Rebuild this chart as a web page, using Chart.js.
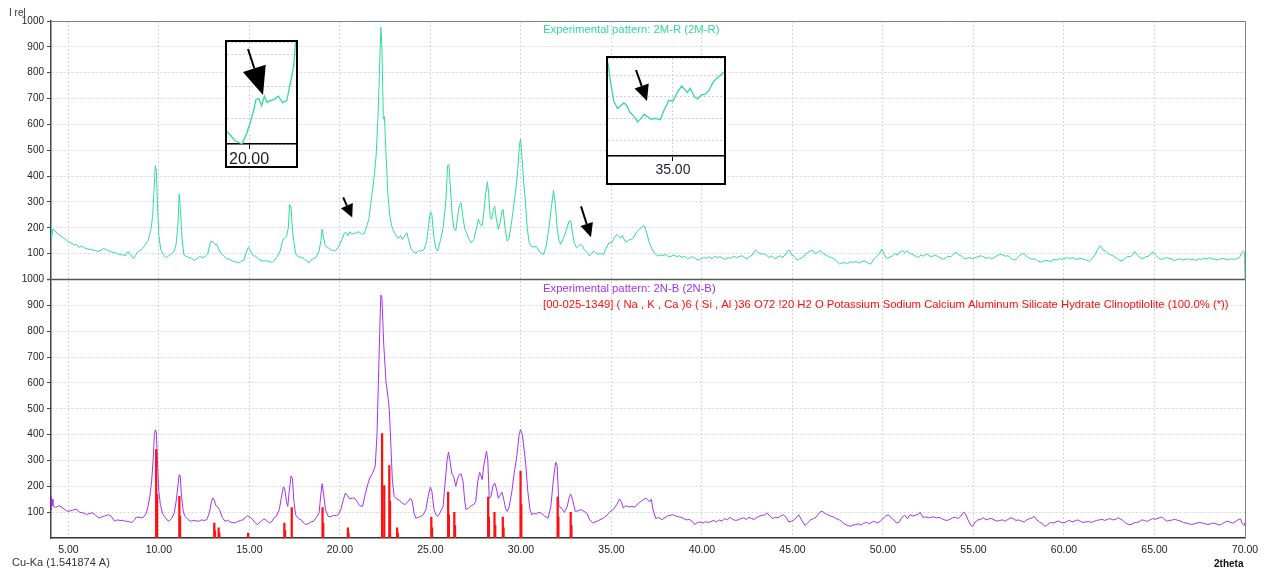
<!DOCTYPE html>
<html>
<head>
<meta charset="utf-8">
<script src="https://cdn.jsdelivr.net/npm/chart.js@4.4.1/dist/chart.umd.min.js"></script>
<style>
html, body { margin: 0; padding: 0; background: #fff; }
#wrap { position: relative; width: 1265px; height: 571px; }
#main { position: absolute; left: 0; top: 0; }
.inset { position: absolute; box-sizing: border-box; border: 2px solid #000; background: #fff; overflow: hidden; }
.inset canvas { display: block; }
</style>
</head>
<body>
<div id="wrap">
    <canvas id="main" width="1265" height="571"></canvas>
    <div class="inset" style="left:225px;top:40px;width:73px;height:128px"><canvas id="inset1" width="69" height="124"></canvas></div>
    <div class="inset" style="left:606px;top:56px;width:120px;height:129px"><canvas id="inset2" width="116" height="125"></canvas></div>
</div>
<script>
// 2theta / I rel pairs
const pattern2MR = [
    [4.04, 205], [4.06, 160], [4.15, 195], [4.25, 190], [4.4, 176], [4.55, 170], [4.7, 162], [4.85, 155],
    [5.0, 146], [5.15, 142], [5.3, 133], [5.45, 136], [5.6, 124], [5.75, 130], [5.9, 122], [6.05, 118],
    [6.2, 117], [6.35, 114], [6.5, 112], [6.65, 108], [6.8, 113], [6.95, 120], [7.1, 115], [7.25, 110],
    [7.4, 106], [7.55, 104], [7.7, 100], [7.85, 97], [8.0, 95], [8.15, 93], [8.3, 109], [8.4, 98],
    [8.5, 90], [8.6, 81], [8.7, 92], [8.8, 105], [8.95, 111], [9.1, 120], [9.25, 135], [9.4, 150],
    [9.55, 190], [9.65, 240], [9.72, 330], [9.8, 440], [9.86, 420], [9.92, 290], [10.0, 170], [10.1, 117],
    [10.25, 95], [10.4, 85], [10.55, 92], [10.7, 100], [10.85, 110], [10.95, 135], [11.05, 210], [11.12, 330],
    [11.2, 260], [11.28, 160], [11.38, 95], [11.5, 90], [11.65, 85], [11.8, 82], [11.95, 74], [12.1, 80],
    [12.25, 90], [12.4, 84], [12.55, 88], [12.7, 100], [12.85, 145], [12.95, 148], [13.1, 135], [13.2, 136],
    [13.3, 118], [13.45, 100], [13.6, 90], [13.75, 80], [13.9, 78], [14.1, 70], [14.25, 68], [14.4, 65],
    [14.55, 70], [14.7, 75], [14.85, 110], [14.95, 125], [15.05, 112], [15.2, 92], [15.35, 90], [15.5, 80],
    [15.7, 72], [15.9, 72], [16.1, 70], [16.25, 66], [16.4, 75], [16.55, 90], [16.7, 110], [16.85, 155],
    [16.95, 160], [17.05, 165], [17.15, 200], [17.22, 290], [17.3, 280], [17.38, 190], [17.45, 150], [17.55, 100],
    [17.7, 88], [17.9, 85], [18.05, 78], [18.2, 70], [18.3, 65], [18.4, 75], [18.55, 80], [18.7, 88],
    [18.85, 110], [18.95, 150], [19.02, 195], [19.1, 160], [19.2, 130], [19.35, 123], [19.5, 115], [19.65, 112],
    [19.75, 110], [19.9, 125], [20.05, 145], [20.15, 160], [20.25, 180], [20.35, 181], [20.45, 170], [20.55, 185],
    [20.65, 175], [20.75, 178], [20.9, 180], [21.05, 185], [21.2, 175], [21.35, 178], [21.5, 210], [21.6, 233],
    [21.7, 290], [21.8, 345], [21.9, 400], [22.0, 480], [22.1, 620], [22.18, 790], [22.26, 975], [22.32, 900],
    [22.4, 620], [22.46, 630], [22.55, 480], [22.65, 330], [22.75, 250], [22.85, 210], [22.95, 190], [23.05, 175],
    [23.15, 165], [23.25, 160], [23.35, 170], [23.45, 155], [23.6, 170], [23.7, 181], [23.8, 150], [23.95, 115],
    [24.1, 105], [24.2, 103], [24.35, 112], [24.5, 110], [24.65, 116], [24.8, 150], [24.9, 210], [25.0, 262],
    [25.08, 250], [25.2, 160], [25.3, 120], [25.4, 110], [25.55, 150], [25.7, 200], [25.85, 300], [25.95, 440],
    [26.02, 445], [26.1, 360], [26.2, 250], [26.3, 200], [26.4, 188], [26.5, 240], [26.6, 290], [26.7, 297],
    [26.8, 240], [26.9, 195], [27.0, 181], [27.1, 160], [27.25, 142], [27.4, 155], [27.55, 200], [27.65, 233],
    [27.75, 215], [27.85, 207], [27.95, 260], [28.05, 330], [28.15, 378], [28.22, 330], [28.3, 240], [28.38, 233],
    [28.48, 270], [28.55, 284], [28.65, 230], [28.75, 194], [28.85, 220], [28.95, 265], [29.02, 271], [29.12, 200],
    [29.24, 149], [29.35, 160], [29.5, 230], [29.65, 310], [29.8, 400], [29.92, 520], [29.98, 543], [30.05, 480],
    [30.15, 380], [30.25, 300], [30.35, 200], [30.45, 145], [30.55, 130], [30.7, 125], [30.85, 128], [31.0, 110],
    [31.15, 100], [31.25, 97], [31.4, 130], [31.55, 200], [31.7, 290], [31.8, 345], [31.9, 290], [32.0, 200],
    [32.1, 150], [32.2, 136], [32.35, 160], [32.5, 190], [32.65, 225], [32.75, 228], [32.85, 180], [32.95, 140],
    [33.08, 123], [33.2, 130], [33.3, 136], [33.4, 130], [33.5, 115], [33.65, 105], [33.77, 92], [33.9, 100],
    [34.0, 110], [34.1, 105], [34.25, 98], [34.4, 100], [34.56, 97], [34.7, 120], [34.86, 142], [35.0, 140],
    [35.15, 160], [35.3, 175], [35.4, 168], [35.5, 160], [35.6, 170], [35.74, 150], [35.85, 145], [36.0, 155],
    [36.1, 155], [36.25, 165], [36.4, 185], [36.55, 195], [36.65, 200], [36.75, 207], [36.85, 205], [36.95, 180],
    [37.1, 140], [37.25, 116], [37.4, 100], [37.55, 91], [37.7, 95], [37.85, 93], [38.0, 97], [38.15, 88],
    [38.3, 90], [38.45, 95], [38.6, 88], [38.75, 92], [38.9, 85], [39.05, 90], [39.2, 80], [39.35, 85],
    [39.5, 88], [39.65, 80], [39.8, 75], [39.95, 80], [40.1, 85], [40.25, 82], [40.4, 88], [40.55, 80],
    [40.7, 90], [40.85, 85], [41.0, 88], [41.15, 82], [41.3, 78], [41.45, 85], [41.6, 82], [41.75, 90],
    [41.9, 85], [42.05, 88], [42.2, 92], [42.35, 85], [42.5, 80], [42.65, 90], [42.8, 95], [42.95, 115],
    [43.1, 105], [43.25, 98], [43.4, 100], [43.55, 95], [43.7, 85], [43.85, 92], [44.0, 80], [44.15, 85],
    [44.3, 92], [44.45, 85], [44.6, 95], [44.75, 110], [44.85, 114], [44.95, 95], [45.1, 90], [45.25, 75],
    [45.4, 80], [45.55, 85], [45.7, 95], [45.85, 105], [46.0, 110], [46.1, 114], [46.25, 100], [46.4, 105],
    [46.55, 112], [46.7, 100], [46.85, 95], [47.0, 88], [47.15, 85], [47.3, 80], [47.45, 70], [47.6, 60],
    [47.75, 64], [47.9, 65], [48.05, 62], [48.2, 68], [48.35, 66], [48.5, 70], [48.65, 64], [48.8, 68],
    [48.95, 72], [49.1, 68], [49.25, 60], [49.35, 62], [49.5, 80], [49.65, 88], [49.8, 100], [49.95, 118],
    [50.05, 100], [50.2, 82], [50.35, 85], [50.5, 90], [50.65, 100], [50.8, 95], [50.95, 108], [51.05, 112],
    [51.2, 104], [51.35, 110], [51.5, 100], [51.65, 98], [51.8, 90], [51.95, 85], [52.1, 95], [52.25, 90],
    [52.4, 100], [52.55, 92], [52.7, 88], [52.85, 95], [53.0, 90], [53.15, 85], [53.3, 78], [53.45, 82],
    [53.6, 90], [53.75, 88], [53.9, 98], [54.05, 106], [54.2, 95], [54.35, 90], [54.5, 80], [54.65, 82],
    [54.8, 85], [54.95, 80], [55.1, 85], [55.25, 88], [55.4, 92], [55.55, 88], [55.7, 82], [55.85, 85],
    [56.0, 80], [56.15, 85], [56.3, 92], [56.45, 98], [56.6, 95], [56.75, 90], [56.9, 92], [57.05, 85],
    [57.2, 75], [57.35, 78], [57.5, 90], [57.65, 98], [57.8, 100], [57.95, 88], [58.1, 82], [58.25, 78],
    [58.4, 80], [58.55, 72], [58.7, 67], [58.85, 70], [59.0, 75], [59.15, 72], [59.3, 70], [59.45, 78],
    [59.6, 75], [59.75, 80], [59.9, 78], [60.05, 82], [60.2, 85], [60.35, 80], [60.5, 85], [60.65, 78],
    [60.8, 80], [60.95, 82], [61.1, 78], [61.25, 75], [61.4, 70], [61.55, 80], [61.7, 95], [61.85, 115],
    [62.0, 130], [62.15, 115], [62.3, 110], [62.45, 100], [62.6, 95], [62.75, 90], [62.9, 82], [63.05, 75],
    [63.2, 72], [63.35, 80], [63.5, 90], [63.65, 88], [63.8, 95], [63.9, 108], [64.05, 95], [64.2, 85],
    [64.35, 80], [64.5, 88], [64.65, 90], [64.8, 98], [64.9, 108], [65.05, 95], [65.2, 85], [65.35, 78],
    [65.5, 80], [65.65, 85], [65.8, 82], [65.95, 80], [66.1, 72], [66.25, 78], [66.4, 80], [66.55, 75],
    [66.7, 78], [66.85, 80], [67.0, 76], [67.15, 78], [67.3, 74], [67.45, 80], [67.6, 78], [67.75, 82],
    [67.9, 80], [68.05, 85], [68.2, 80], [68.35, 78], [68.5, 75], [68.65, 80], [68.8, 82], [68.95, 78],
    [69.1, 75], [69.25, 80], [69.4, 78], [69.55, 80], [69.7, 85], [69.8, 100], [69.9, 110], [69.98, 105],
    [70.0, 0]
];

const pattern2NB = [
    [4.04, 160], [4.06, 110], [4.1, 150], [4.15, 125], [4.3, 118], [4.5, 125], [4.65, 118], [4.8, 110],
    [4.95, 103], [5.1, 105], [5.25, 108], [5.45, 112], [5.6, 100], [5.75, 98], [5.9, 95], [6.0, 90],
    [6.15, 95], [6.35, 97], [6.5, 88], [6.7, 77], [6.85, 82], [7.0, 85], [7.2, 90], [7.35, 85],
    [7.55, 65], [7.7, 70], [7.85, 68], [8.0, 68], [8.15, 65], [8.3, 64], [8.5, 60], [8.65, 70],
    [8.75, 81], [8.9, 80], [9.05, 78], [9.15, 81], [9.3, 95], [9.4, 122], [9.5, 160], [9.6, 220],
    [9.68, 300], [9.75, 400], [9.8, 418], [9.86, 410], [9.92, 300], [10.0, 180], [10.08, 130], [10.2, 95],
    [10.3, 84], [10.45, 70], [10.55, 65], [10.7, 75], [10.85, 97], [10.95, 140], [11.05, 200], [11.12, 245],
    [11.18, 240], [11.25, 160], [11.35, 100], [11.45, 84], [11.6, 72], [11.75, 65], [11.9, 68], [12.05, 66],
    [12.2, 65], [12.35, 70], [12.5, 68], [12.65, 71], [12.8, 100], [12.9, 140], [12.98, 155], [13.05, 148],
    [13.15, 125], [13.25, 120], [13.35, 110], [13.5, 80], [13.65, 65], [13.8, 68], [13.95, 62], [14.15, 58],
    [14.3, 62], [14.5, 68], [14.65, 70], [14.8, 82], [14.9, 86], [15.05, 80], [15.2, 70], [15.3, 60],
    [15.45, 52], [15.6, 62], [15.8, 74], [15.95, 68], [16.1, 58], [16.25, 65], [16.35, 77], [16.5, 85],
    [16.65, 110], [16.8, 170], [16.88, 198], [16.95, 190], [17.05, 140], [17.12, 122], [17.2, 180], [17.3, 240],
    [17.38, 230], [17.45, 150], [17.55, 90], [17.7, 75], [17.85, 71], [18.0, 58], [18.1, 52], [18.25, 55],
    [18.4, 62], [18.55, 65], [18.7, 80], [18.85, 97], [18.95, 170], [19.02, 210], [19.1, 170], [19.2, 110],
    [19.35, 84], [19.5, 82], [19.65, 88], [19.8, 86], [19.9, 90], [20.05, 110], [20.2, 150], [20.3, 174],
    [20.4, 165], [20.55, 151], [20.7, 155], [20.85, 151], [21.0, 135], [21.1, 125], [21.25, 122], [21.4, 170],
    [21.55, 210], [21.65, 232], [21.8, 250], [21.95, 277], [22.05, 400], [22.13, 613], [22.2, 800], [22.26, 940],
    [22.32, 930], [22.42, 750], [22.55, 600], [22.65, 550], [22.73, 497], [22.82, 350], [22.9, 220], [23.0, 161],
    [23.15, 150], [23.3, 145], [23.45, 135], [23.6, 129], [23.75, 140], [23.9, 154], [24.0, 140], [24.1, 95],
    [24.2, 77], [24.35, 80], [24.5, 85], [24.6, 90], [24.75, 110], [24.9, 170], [25.0, 197], [25.08, 180],
    [25.2, 110], [25.3, 90], [25.4, 84], [25.55, 100], [25.7, 122], [25.82, 220], [25.92, 300], [26.0, 332],
    [26.08, 300], [26.18, 250], [26.28, 239], [26.4, 200], [26.5, 230], [26.6, 245], [26.7, 248], [26.8, 220],
    [26.9, 140], [26.97, 110], [27.1, 115], [27.25, 125], [27.4, 130], [27.5, 140], [27.62, 220], [27.72, 254],
    [27.8, 240], [27.86, 226], [27.95, 280], [28.05, 320], [28.1, 336], [28.17, 300], [28.25, 154], [28.35, 160],
    [28.45, 200], [28.55, 213], [28.65, 190], [28.75, 154], [28.85, 165], [28.95, 177], [29.05, 150], [29.15, 115],
    [29.24, 103], [29.35, 120], [29.5, 180], [29.63, 252], [29.78, 320], [29.9, 400], [29.98, 419], [30.08, 400],
    [30.18, 340], [30.26, 290], [30.38, 180], [30.5, 110], [30.6, 90], [30.7, 95], [30.85, 93], [31.0, 100],
    [31.15, 95], [31.3, 85], [31.5, 77], [31.65, 120], [31.8, 230], [31.92, 293], [32.0, 280], [32.1, 122],
    [32.25, 115], [32.4, 99], [32.55, 120], [32.68, 160], [32.75, 170], [32.85, 150], [33.0, 103], [33.15, 105],
    [33.3, 110], [33.5, 103], [33.65, 95], [33.8, 70], [33.97, 58], [34.1, 62], [34.3, 68], [34.56, 77],
    [34.7, 85], [34.9, 100], [35.1, 110], [35.3, 130], [35.45, 151], [35.55, 140], [35.65, 116], [35.8, 125],
    [35.95, 120], [36.1, 122], [36.3, 120], [36.5, 135], [36.7, 145], [36.8, 150], [36.9, 154], [37.0, 148],
    [37.1, 140], [37.2, 150], [37.3, 110], [37.45, 75], [37.6, 80], [37.8, 71], [37.95, 78], [38.1, 85],
    [38.25, 88], [38.4, 90], [38.55, 85], [38.7, 82], [38.85, 80], [39.0, 75], [39.15, 70], [39.3, 72],
    [39.45, 65], [39.6, 52], [39.75, 60], [39.9, 62], [40.05, 58], [40.2, 63], [40.35, 60], [40.5, 64],
    [40.65, 68], [40.8, 62], [40.95, 70], [41.1, 65], [41.25, 75], [41.4, 70], [41.55, 80], [41.7, 72],
    [41.85, 68], [42.0, 70], [42.15, 75], [42.3, 78], [42.45, 72], [42.6, 80], [42.75, 75], [42.9, 72],
    [43.05, 80], [43.2, 85], [43.35, 88], [43.5, 90], [43.6, 97], [43.75, 85], [43.9, 75], [44.05, 80],
    [44.2, 78], [44.35, 85], [44.5, 90], [44.65, 80], [44.8, 62], [44.95, 65], [45.1, 70], [45.25, 82],
    [45.35, 90], [45.5, 70], [45.7, 48], [45.85, 60], [46.0, 70], [46.15, 75], [46.3, 80], [46.5, 100],
    [46.65, 103], [46.8, 95], [46.95, 90], [47.1, 85], [47.25, 82], [47.4, 75], [47.55, 72], [47.7, 65],
    [47.85, 55], [48.0, 50], [48.2, 45], [48.35, 50], [48.5, 52], [48.65, 55], [48.8, 50], [48.95, 58],
    [49.1, 60], [49.25, 55], [49.4, 62], [49.55, 64], [49.7, 58], [49.85, 65], [50.0, 75], [50.15, 85],
    [50.3, 90], [50.45, 78], [50.6, 70], [50.75, 58], [50.9, 62], [51.05, 80], [51.2, 88], [51.35, 75],
    [51.5, 90], [51.65, 85], [51.8, 88], [51.95, 92], [52.05, 100], [52.2, 80], [52.35, 82], [52.5, 78],
    [52.65, 80], [52.8, 82], [52.95, 78], [53.1, 80], [53.25, 75], [53.4, 70], [53.55, 68], [53.7, 72],
    [53.85, 78], [54.0, 80], [54.15, 75], [54.3, 85], [54.45, 100], [54.55, 95], [54.7, 70], [54.85, 50],
    [54.95, 45], [55.1, 62], [55.25, 70], [55.4, 72], [55.55, 78], [55.7, 70], [55.85, 74], [56.0, 75],
    [56.15, 70], [56.3, 65], [56.45, 68], [56.6, 70], [56.75, 65], [56.9, 72], [57.05, 78], [57.2, 75],
    [57.35, 68], [57.5, 70], [57.65, 65], [57.8, 62], [57.95, 70], [58.1, 75], [58.25, 78], [58.35, 84],
    [58.5, 70], [58.65, 62], [58.8, 55], [58.95, 45], [59.1, 52], [59.25, 60], [59.4, 58], [59.55, 62],
    [59.7, 66], [59.85, 60], [60.0, 58], [60.15, 64], [60.3, 68], [60.45, 62], [60.6, 66], [60.75, 70],
    [60.9, 65], [61.05, 60], [61.2, 62], [61.35, 64], [61.5, 60], [61.65, 64], [61.8, 68], [61.95, 70],
    [62.1, 72], [62.25, 68], [62.4, 72], [62.55, 75], [62.7, 70], [62.85, 72], [63.0, 78], [63.1, 74],
    [63.25, 68], [63.4, 58], [63.55, 52], [63.7, 52], [63.85, 58], [64.0, 60], [64.15, 62], [64.3, 70],
    [64.45, 68], [64.6, 64], [64.75, 70], [64.9, 75], [65.05, 72], [65.25, 78], [65.4, 81], [65.55, 72],
    [65.7, 65], [65.85, 68], [66.0, 70], [66.15, 72], [66.3, 68], [66.45, 65], [66.6, 60], [66.75, 58],
    [66.9, 55], [67.05, 52], [67.2, 55], [67.35, 58], [67.5, 60], [67.65, 58], [67.8, 55], [67.95, 52],
    [68.1, 55], [68.25, 58], [68.4, 55], [68.6, 50], [68.75, 55], [68.9, 62], [69.05, 65], [69.2, 60],
    [69.35, 58], [69.5, 65], [69.65, 72], [69.75, 74], [69.85, 55], [69.95, 48], [70.0, 60]
];

// [00-025-1349] clinoptilolite reference sticks
const clinoSticks = [
    [9.85, 342], [9.90, 168], [11.13, 161], [11.17, 84], [13.06, 58], [13.10, 28], [13.30, 39], [13.34, 19],
    [14.93, 19], [16.93, 58], [16.97, 30], [17.34, 118], [19.04, 118], [19.08, 58], [20.44, 39], [20.48, 19],
    [22.33, 404], [22.45, 203], [22.73, 280], [22.77, 142], [23.16, 39], [23.20, 19], [25.05, 81], [25.09, 39],
    [25.98, 178], [26.02, 90], [26.32, 99], [26.36, 48], [28.19, 158], [28.23, 81], [28.54, 99], [28.58, 49],
    [29.00, 81], [29.04, 39], [29.98, 258], [30.02, 129], [32.03, 158], [32.07, 81], [32.75, 99], [32.79, 48]
];

const xTickValues = [5, 10, 15, 20, 25, 30, 35, 40, 45, 50, 55, 60, 65, 70];
const yTickValues = [100, 200, 300, 400, 500, 600, 700, 800, 900, 1000];

const GREEN = '#2fdc9c';
const PURPLE = '#a632f5';
const RED = '#ff1010';
const FONT = "'Liberation Sans', Arial, sans-serif";

const toPoints = pairs => pairs.map(p => ({ x: p[0], y: p[1] }));

function drawArrow(ctx, x1, y1, x2, y2, headLen, headW) {
    const ang = Math.atan2(y2 - y1, x2 - x1);
    const bx = x2 - headLen * Math.cos(ang);
    const by = y2 - headLen * Math.sin(ang);
    ctx.save();
    ctx.strokeStyle = '#000';
    ctx.fillStyle = '#000';
    ctx.lineWidth = 2;
    ctx.beginPath();
    ctx.moveTo(x1, y1);
    ctx.lineTo(bx, by);
    ctx.stroke();
    ctx.beginPath();
    ctx.moveTo(x2, y2);
    ctx.lineTo(bx + headW / 2 * Math.sin(ang), by - headW / 2 * Math.cos(ang));
    ctx.lineTo(bx - headW / 2 * Math.sin(ang), by + headW / 2 * Math.cos(ang));
    ctx.closePath();
    ctx.fill();
    ctx.restore();
}

function yAxis() {
    return {
        type: 'linear',
        position: 'left',
        stack: 'xrd',
        stackWeight: 1,
        min: 0,
        max: 1000,
        afterBuildTicks: s => { s.ticks = yTickValues.map(v => ({ value: v })); },
        afterFit: s => { s.width = 51; },
        ticks: { callback: v => String(v), font: { family: FONT, size: 10 }, color: '#222', padding: 3 },
        grid: { color: '#d6d6d6', tickColor: '#444', tickLength: 4 },
        border: { color: '#444', width: 1.5, dash: [2, 2] }
    };
}

// frame lines, panel captions and arrows on the main chart
const mainDecor = {
    id: 'mainDecor',
    afterDraw(chart) {
        const { ctx, chartArea: a, scales } = chart;
        const sep = scales.yBot.getPixelForValue(1000);
        ctx.save();
        ctx.strokeStyle = '#808080';
        ctx.lineWidth = 1;
        ctx.beginPath();
        ctx.moveTo(a.left, a.top + 0.5);
        ctx.lineTo(a.right + 0.5, a.top + 0.5);
        ctx.lineTo(a.right + 0.5, a.bottom);
        ctx.stroke();
        ctx.strokeStyle = '#555';
        ctx.lineWidth = 1.5;
        ctx.beginPath();
        ctx.moveTo(a.left - 4, sep);
        ctx.lineTo(a.right, sep);
        ctx.stroke();

        ctx.textBaseline = 'middle';
        ctx.font = '10px ' + FONT;
        ctx.fillStyle = '#333';
        ctx.textAlign = 'left';
        ctx.fillText('I rel', 9, 13);
        ctx.font = '11px ' + FONT;
        ctx.fillText('Cu-Ka (1.541874 A)', 12, 563);
        ctx.font = 'bold 10px ' + FONT;
        ctx.fillStyle = '#111';
        ctx.fillText('2theta', 1214, 564);

        ctx.font = '11.3px ' + FONT;
        ctx.fillStyle = GREEN;
        ctx.fillText(chart.data.datasets[0].label, 543, 30);
        ctx.fillStyle = PURPLE;
        ctx.fillText(chart.data.datasets[1].label, 543, 289);
        ctx.fillStyle = RED;
        ctx.fillText(chart.data.datasets[2].label, 543, 305);
        ctx.restore();

        const x = scales.x, y = scales.yTop;
        drawArrow(ctx, x.getPixelForValue(20.18), y.getPixelForValue(318), x.getPixelForValue(20.68), y.getPixelForValue(240), 13, 13);
        drawArrow(ctx, x.getPixelForValue(33.32), y.getPixelForValue(283), x.getPixelForValue(33.87), y.getPixelForValue(163), 14, 13);
    }
};

new Chart(document.getElementById('main'), {
    type: 'line',
    data: {
        datasets: [
            {
                label: 'Experimental pattern: 2M-R (2M-R)',
                data: toPoints(pattern2MR),
                yAxisID: 'yTop',
                borderColor: GREEN,
                borderWidth: 1,
                pointRadius: 0,
                order: 2
            },
            {
                label: 'Experimental pattern: 2N-B (2N-B)',
                data: toPoints(pattern2NB),
                yAxisID: 'yBot',
                borderColor: PURPLE,
                borderWidth: 1,
                pointRadius: 0,
                order: 2
            },
            {
                type: 'bar',
                label: '[00-025-1349] ( Na , K , Ca )6 ( Si , Al )36 O72 !20 H2 O Potassium Sodium Calcium Aluminum Silicate Hydrate Clinoptilolite (100.0% (*))',
                data: toPoints(clinoSticks),
                yAxisID: 'yBot',
                backgroundColor: RED,
                barThickness: 1.6,
                grouped: false,
                order: 0
            }
        ]
    },
    options: {
        responsive: false,
        animation: false,
        events: [],
        layout: { padding: { top: 21, right: 20, left: 0, bottom: 0 } },
        plugins: {
            legend: { display: false },
            tooltip: { enabled: false }
        },
        scales: {
            x: {
                type: 'linear',
                min: 4.04,
                max: 70,
                offset: false,
                afterBuildTicks: s => { s.ticks = xTickValues.map(v => ({ value: v })); },
                afterFit: s => { s.height = 33; },
                ticks: {
                    callback: v => Number(v).toFixed(2),
                    font: { family: FONT, size: 10.5 },
                    color: '#222',
                    maxRotation: 0,
                    autoSkip: false,
                    padding: 6
                },
                grid: { color: '#d6d6d6', drawTicks: false, offset: false },
                border: { color: '#333', width: 1.5, dash: [2, 2] }
            },
            yBot: yAxis(),
            yTop: yAxis()
        }
    },
    plugins: [mainDecor]
});

function makeInset(id, xMin, xMax, yMin, yMax, tickValue, fontSize, axisHeight, arrow) {
    new Chart(document.getElementById(id), {
        type: 'line',
        data: {
            datasets: [{
                data: toPoints(pattern2MR),
                borderColor: GREEN,
                borderWidth: 1.3,
                pointRadius: 0
            }]
        },
        options: {
            responsive: false,
            animation: false,
            events: [],
            layout: { padding: 0 },
            plugins: { legend: { display: false }, tooltip: { enabled: false } },
            scales: {
                x: {
                    type: 'linear',
                    min: xMin,
                    max: xMax,
                    afterBuildTicks: s => { s.ticks = [{ value: tickValue }]; },
                    afterFit: s => { s.height = axisHeight; },
                    ticks: {
                        callback: v => Number(v).toFixed(2),
                        font: { family: FONT, size: fontSize },
                        color: '#1c1c30',
                        maxRotation: 0,
                        padding: 1
                    },
                    grid: { color: '#d0d0d0', tickColor: '#000', tickLength: 5 },
                    border: { color: '#000', width: 1.5, dash: [2, 2] }
                },
                y: {
                    min: yMin,
                    max: yMax,
                    ticks: { display: false },
                    afterFit: s => { s.width = 0; },
                    grid: { color: '#d0d0d0', drawTicks: false },
                    border: { display: false, dash: [2, 2] }
                }
            }
        },
        plugins: [{
            id: 'insetArrow',
            afterDraw(chart) {
                drawArrow(chart.ctx, arrow[0], arrow[1], arrow[2], arrow[3], arrow[4], arrow[5]);
            }
        }]
    });
}

makeInset('inset1', 19.21, 21.68, 110, 270, 20, 16, 22, [21, 7, 36, 53, 28, 24]);
makeInset('inset2', 32.75, 36.77, 13, 240, 35, 14, 27, [28, 12, 39, 43, 16, 15]);
</script>
</body>
</html>
